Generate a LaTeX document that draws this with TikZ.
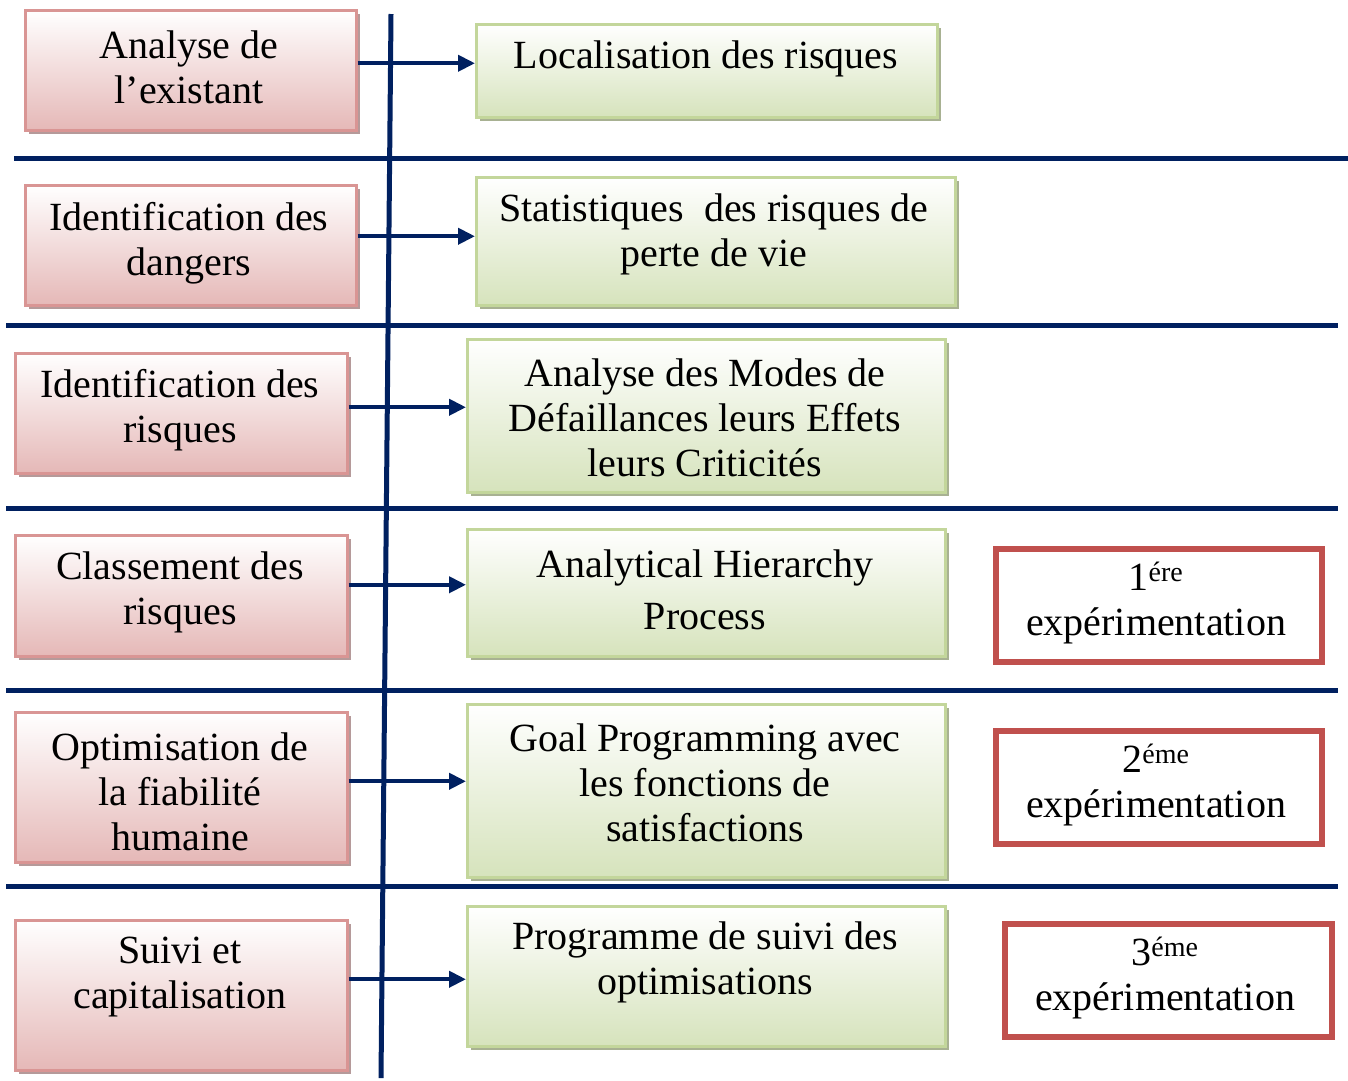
\documentclass[tikz,border=0pt]{standalone}
\usepackage{fontspec}
\setmainfont{Liberation Serif}
\usepackage{tikz}
\usetikzlibrary{arrows.meta,positioning,shadows}

\definecolor{navy}{HTML}{002060}
\definecolor{pinkline}{HTML}{D99594}
\definecolor{pinkbot}{HTML}{E5B8B7}
\definecolor{pinkshadow}{HTML}{B59A9A}
\definecolor{greenline}{HTML}{C3D69B}
\definecolor{greenbot}{HTML}{D6E3BC}
\definecolor{greenshadow}{HTML}{A8B192}
\definecolor{redline}{HTML}{C0504D}

\begin{document}
\begin{tikzpicture}[
        x=1pt, y=-1pt,
        task/.style={rectangle, draw=pinkline, line width=2.5pt, top color=white, bottom color=pinkbot,
            minimum width=332pt, anchor=north west,
            drop shadow={shadow xshift=4pt, shadow yshift=-4pt, fill=pinkshadow, opacity=1}},
        method/.style={rectangle, draw=greenline, line width=2.5pt, top color=white, bottom color=greenbot,
            minimum width=478pt, anchor=north west,
            drop shadow={shadow xshift=4pt, shadow yshift=-4pt, fill=greenshadow, opacity=1}},
        trial/.style={rectangle, draw=redline, line width=6pt, fill=white,
            minimum width=326pt, minimum height=113pt, anchor=north west},
        txt/.style={inner sep=0pt, align=center, font=\fontsize{40}{45}\selectfont},
        sep/.style={navy, line width=5pt},
        arrow/.style={-{Triangle[length=17pt,width=16pt]}, navy, line width=4pt}
    ]
        \useasboundingbox (0,0) rectangle (1348,1080);

        % Separators
        \draw[sep] (14,158) -- (1348,158);
        \draw[sep] (6,325) -- (1338,325);
        \draw[sep] (6,508) -- (1338,508);
        \draw[sep] (6,690) -- (1338,690);
        \draw[sep] (6,886) -- (1338,886);
        \coordinate (axistop) at (391,14);
        \coordinate (axisbot) at (381,1078);
        \draw[sep] (axistop) -- (axisbot);

        % Steps
        \node[task, minimum width=331pt, minimum height=120pt] (l1) at (24,9) {};
        \node[task, minimum width=331pt, minimum height=120pt] (l2) at (24,184) {};
        \node[task, minimum height=120pt] (l3) at (14,352) {};
        \node[task, minimum height=121pt] (l4) at (14,534) {};
        \node[task, minimum height=150pt] (l5) at (14,711) {};
        \node[task, minimum height=150pt] (l6) at (14,919) {};

        \node[txt] (l1t) at (189,67) {Analyse de\\l’existant};
        \node[txt] (l2t) at (189,243) {Identification des\\dangers};
        \node[txt] (l3t) at (180,410) {Identification des\\risques};
        \node[txt] (l4t) at (180,592) {Classement des\\risques};
        \node[txt] (l5t) at (180,792) {Optimisation de\\la fiabilité\\humaine};
        \node[txt] (l6t) at (180,977) {Suivi et\\capitalisation};

        % Methods
        \node[method, minimum width=461pt, minimum height=93pt] (g1) at (475,23) {};
        \node[method, minimum width=479pt, minimum height=128pt] (g2) at (475,176) {};
        \node[method, minimum height=153pt] (g3) at (466,338) {};
        \node[method, minimum height=127pt] (g4) at (466,528) {};
        \node[method, minimum height=173pt] (g5) at (466,703) {};
        \node[method, minimum height=140pt] (g6) at (466,905) {};

        \node[txt] (g1t) at (706,59) {Localisation des risques};
        \node[txt] (g2t) at (714,234) {Statistiques\ \ des risques de\\perte de vie};
        \node[txt] (g3t) at (705,418) {Analyse des Modes de\\Défaillances leurs Effets\\leurs Criticités};
        \node[txt] (g4t) at (705,590) {Analytical Hierarchy\\[7pt]Process};
        \node[txt] (g5t) at (705,783) {Goal Programming avec\\les fonctions de\\satisfactions};
        \node[txt] (g6t) at (705,962) {Programme de suivi des\\optimisations};

        % Experiments
        \node[trial] (r1) at (993,546) {};
        \node[trial] (r2) at (993,728) {};
        \node[trial, minimum width=327pt] (r3) at (1002,921) {};

        \node[txt] (r1t) at (1156,603) {1\textsuperscript{ére}\\expérimentation};
        \node[txt] (r2t) at (1156,785) {2\textsuperscript{éme}\\expérimentation};
        \node[txt] (r3t) at (1165,978) {3\textsuperscript{éme}\\expérimentation};

        % Connections
        \draw[arrow] ([yshift=7pt]l1.east) -- ([yshift=7pt]l1.east -| g1.west);
        \draw[arrow] ([yshift=9pt]l2.east) -- ([yshift=9pt]l2.east -| g2.west);
        \draw[arrow] ([yshift=6pt]l3.east) -- ([yshift=6pt]l3.east -| g3.west);
        \draw[arrow] ([yshift=11pt]l4.east) -- ([yshift=11pt]l4.east -| g4.west);
        \draw[arrow] ([yshift=6pt]l5.east) -- ([yshift=6pt]l5.east -| g5.west);
        \draw[arrow] ([yshift=16pt]l6.east) -- ([yshift=16pt]l6.east -| g6.west);

    \end{tikzpicture}
\end{document}
